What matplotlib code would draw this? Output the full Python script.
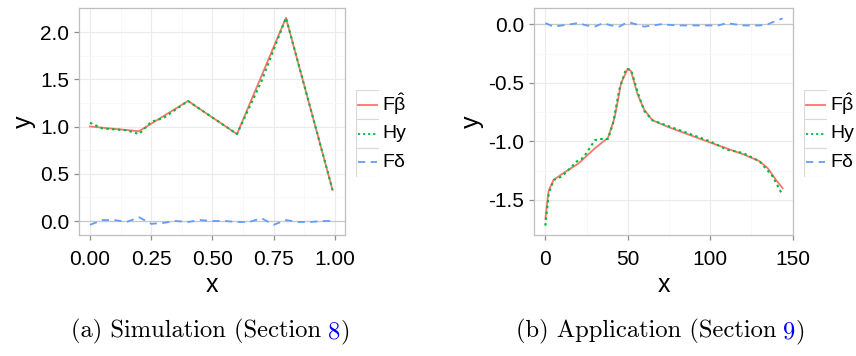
import numpy as np
import matplotlib
matplotlib.use("Agg")
import matplotlib.pyplot as plt
from matplotlib.patches import Rectangle

plt.rcParams['font.family'] = ['Liberation Sans', 'DejaVu Sans']
plt.rcParams['mathtext.fontset'] = 'custom'
plt.rcParams['mathtext.rm'] = 'Liberation Sans'
plt.rcParams['mathtext.it'] = 'Liberation Sans'

# (a) simulation
sim_x_fit = [0.0, 0.2, 0.4, 0.6, 0.8, 0.99]
sim_fit = [1.0, 0.95, 1.27, 0.92, 2.15, 0.33]
sim_x_hy = [0.0, 0.05, 0.15, 0.2, 0.25, 0.3, 0.4, 0.6, 0.7, 0.8, 0.99]
sim_hy = [1.04, 0.98, 0.96, 0.92, 1.05, 1.09, 1.27, 0.92, 1.48, 2.15, 0.33]
sim_x_d = [0.0, 0.05, 0.1, 0.15, 0.2, 0.25, 0.3, 0.35, 0.4, 0.45, 0.5,
           0.55, 0.6, 0.65, 0.7, 0.75, 0.8, 0.85, 0.9, 0.95, 0.99]
sim_d = [-0.04, 0.01, 0.01, -0.01, 0.04, -0.03, -0.02, 0.0, -0.01, 0.01, 0.0,
         0.0, -0.01, -0.01, 0.03, -0.04, 0.01, -0.01, -0.01, 0.0, 0.0]

# (b) application
app_x_fit = [0, 2, 5, 10, 20, 30, 38, 42, 46, 50, 52, 56, 60, 65, 75,
             100, 120, 130, 135, 140, 144]
app_fit = [-1.66, -1.42, -1.33, -1.28, -1.19, -1.06, -0.97, -0.80, -0.50, -0.38,
           -0.40, -0.60, -0.73, -0.82, -0.88, -1.01, -1.11, -1.17, -1.23, -1.33, -1.40]
app_x_hy = [0, 2, 5, 10, 20, 22, 25, 30, 33, 38, 41, 45, 49, 52, 56, 60, 65,
            100, 110, 120, 130, 138, 144]
app_hy = [-1.72, -1.45, -1.33, -1.30, -1.16, -1.15, -1.10, -0.99, -0.98, -0.98,
          -0.85, -0.55, -0.38, -0.39, -0.58, -0.74, -0.82, -1.00, -1.07, -1.10,
          -1.17, -1.30, -1.46]
app_x_d = [0, 5, 10, 20, 25, 30, 35, 40, 45, 50, 55, 60, 70, 80, 90, 100,
           105, 110, 120, 130, 135, 140, 144]
app_d = [0.01, -0.02, -0.01, 0.01, -0.01, -0.02, 0.01, -0.01, -0.02, 0.02, 0.0,
         -0.02, 0.0, -0.01, -0.01, -0.01, -0.01, 0.01, -0.01, -0.01, 0.0, 0.03, 0.05]

labels = [r'F$\hat{\beta}$', 'Hy', r'F$\delta$']
colors = ['#F8766D', '#00BA38', '#619CFF']
styles = ['-', (0, (1.2, 1.6)), (0, (4, 3))]

W, H = 856, 356
fig = plt.figure(figsize=(W / 100, H / 100), dpi=100)


def px_rect(x0, y0, x1, y1):
    return [x0 / W, 1 - y1 / H, (x1 - x0) / W, (y1 - y0) / H]


def style_axes(ax, xmaj, xmin, ymaj, ymin, xfmt, yfmt):
    ax.set_xticks(xmaj)
    ax.set_xticks(xmin, minor=True)
    ax.set_yticks(ymaj)
    ax.set_yticks(ymin, minor=True)
    ax.set_xticklabels([xfmt.format(v) for v in xmaj])
    ax.set_yticklabels([yfmt.format(v) for v in ymaj])
    ax.grid(which='major', color='#EBEBEB', lw=0.8)
    ax.grid(which='minor', color='#F7F7F7', lw=0.6)
    ax.set_axisbelow(True)
    for s in ax.spines.values():
        s.set_color('#BFBFBF')
        s.set_linewidth(0.9)
    ax.tick_params(which='major', length=3.6, width=0.9, color='#8C8C8C',
                   labelsize=15, pad=3.5, labelcolor='black')
    ax.tick_params(axis='x', which='major', pad=7)
    ax.tick_params(which='minor', length=0)
    ax.axhline(0, color='#C8C8C8', lw=0.9, zorder=1)
    ax.set_xlabel('x', fontsize=18, labelpad=3)
    ax.set_ylabel('y', fontsize=18, labelpad=3)


def legend_box(x0, y0):
    lax = fig.add_axes(px_rect(x0, y0, x0 + 23, y0 + 87))
    lax.set_xlim(0, 1)
    lax.set_ylim(0, 3)
    lax.axis('off')
    for i in range(3):
        lax.add_patch(Rectangle((0, 2 - i), 1, 1, fc='white', ec='#D9D9D9', lw=0.8))
        lax.plot([0.08, 0.92], [2.5 - i, 2.5 - i], color=colors[i], ls=styles[i], lw=1.3)
        fig.text((x0 + 26) / W, 1 - (y0 + 14.5 + 29 * i) / H, labels[i],
                 fontsize=14, ha='left', va='center')


ax1 = fig.add_axes(px_rect(79, 8, 345, 235))
ax1.plot(sim_x_fit, sim_fit, color=colors[0], ls=styles[0], lw=1.3)
ax1.plot(sim_x_hy, sim_hy, color=colors[1], ls=styles[1], lw=1.5)
ax1.plot(sim_x_d, sim_d, color=colors[2], ls=styles[2], lw=1.3)
ax1.set_xlim(-0.045, 1.041)
ax1.set_ylim(-0.148, 2.254)
style_axes(ax1, [0, 0.25, 0.5, 0.75, 1.0], [0.125, 0.375, 0.625, 0.875],
           [0, 0.5, 1.0, 1.5, 2.0], [0.25, 0.75, 1.25, 1.75],
           '{:.2f}', '{:.1f}')
legend_box(356, 90)

ax2 = fig.add_axes(px_rect(534, 8, 793, 235))
ax2.plot(app_x_fit, app_fit, color=colors[0], ls=styles[0], lw=1.3)
ax2.plot(app_x_hy, app_hy, color=colors[1], ls=styles[1], lw=1.5)
ax2.plot(app_x_d, app_d, color=colors[2], ls=styles[2], lw=1.3)
ax2.set_xlim(-6.9, 150.3)
ax2.set_ylim(-1.80, 0.139)
style_axes(ax2, [0, 50, 100, 150], [25, 75, 125],
           [0.0, -0.5, -1.0, -1.5], [-0.25, -0.75, -1.25],
           '{:.0f}', '{:.1f}')
legend_box(804, 90)

# captions
cap_size = 17.7
for x0, main, num in [(71, '(a) Simulation (Section', '8'),
                      (516, '(b) Application (Section', '9')]:
    t1 = fig.text(x0 / W, 1 - 337 / H, main, family='cmr10', fontsize=cap_size,
                  ha='left', va='baseline')
    t2 = plt.annotate(num, xy=(1, 0), xycoords=t1, xytext=(5, 0),
                      textcoords='offset points', family='cmr10', fontsize=cap_size,
                      color='blue', ha='left', va='bottom')
    plt.annotate(')', xy=(1, 0), xycoords=t2, family='cmr10', fontsize=cap_size,
                 ha='left', va='bottom')

fig.savefig('out.png', dpi=100)
